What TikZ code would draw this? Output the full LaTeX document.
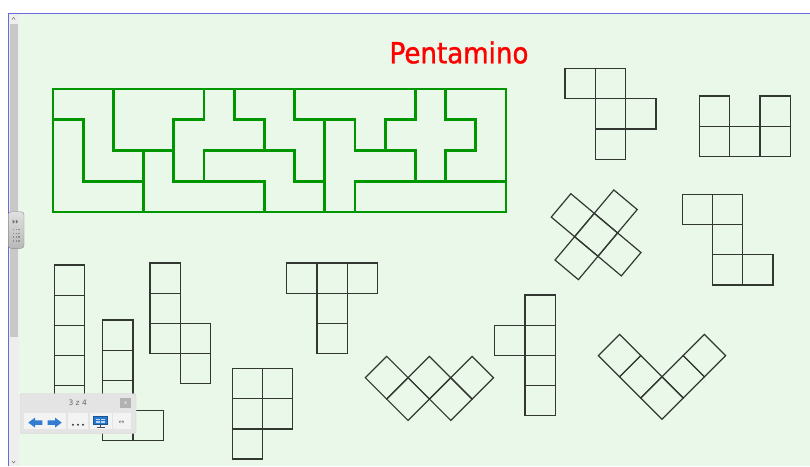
\documentclass[tikz,border=0pt]{standalone}
\usepackage{fontspec}
\newfontfamily\titlefont[FakeStretch=0.9,FakeBold=1.2]{DejaVu Sans}
\newfontfamily\uifont{DejaVu Sans}
\definecolor{bg}{RGB}{233,248,233}
\definecolor{gline}{RGB}{0,150,0}
\definecolor{pline}{RGB}{50,55,50}
\definecolor{bluebd}{RGB}{105,105,215}
\definecolor{track}{RGB}{238,238,238}
\definecolor{thumb}{RGB}{200,200,200}
\definecolor{tbg}{RGB}{228,228,228}
\definecolor{tbd}{RGB}{210,210,210}
\definecolor{btn}{RGB}{243,243,243}
\definecolor{arrowblue}{RGB}{50,125,210}
\definecolor{scr}{RGB}{40,120,205}
\tikzset{
  piece/.style={draw=pline, line width=1.2pt, line join=miter},
  greenline/.style={draw=gline, line width=2.7pt, line cap=rect, line join=miter},
}
\newcommand\cel[2]{\draw[piece] (#1,#2) rectangle ++(1,1);}
\newcommand\ccel[2]{\draw[piece] ({#1-0.5},{#2-0.5}) rectangle ++(1,1);}
\begin{document}
\begin{tikzpicture}[x=1pt,y=-1pt]
\useasboundingbox (0,0) rectangle (810,466);
\fill[white] (0,0) rectangle (810,466);
\fill[bg] (8.3,13.5) rectangle (810,466);

% scrollbar
\fill[track] (8.8,14) rectangle (18.5,466);
\fill[thumb] (9.5,24) rectangle (18.2,337);
\draw[black!55, line width=0.5pt] (12,19.5) -- (13.6,17.5) -- (15.2,19.5);
\draw[black!55, line width=0.5pt] (12,461) -- (13.6,463) -- (15.2,461);
\draw[bluebd, line width=0.9pt] (8.3,466) -- (8.3,13.5) -- (810,13.5);
% side tab
\shade[top color=black!12, bottom color=black!28, rounded corners=3pt]
  (8.3,211.7) rectangle (24,248.3);
\draw[black!45, rounded corners=3pt] (8.3,211.7) rectangle (24,248.3);
\fill[black!55] (12.7,219.7) -- (15,221.7) -- (12.7,223.7) -- cycle;
\fill[black!55] (15.9,219.7) -- (18.2,221.7) -- (15.9,223.7) -- cycle;
\foreach \yy in {229.5,233.3,237.1,240.9} {
  \foreach \xx in {13.5,16.3,19.1} {
    \fill[black!45] (\xx-0.7,\yy-0.7) rectangle (\xx+0.7,\yy+0.7);
  }
}

% title
\node[anchor=base, inner sep=0pt, text=red, font=\titlefont\fontsize{29}{29}\selectfont] (title) at (459,63.3) {Pentamino};

% green 15x4 rectangle
\begin{scope}[shift={(53,89)}, x=30.2pt, y=-30.75pt]
  \draw[greenline] (0,0) rectangle (15,4);
  \draw[greenline] (0,1) -- (1,1) -- (1,3) -- (3,3);
  \draw[greenline] (2,0) -- (2,2) -- (4,2);
  \draw[greenline] (3,2) -- (3,4);
  \draw[greenline] (5,0) -- (5,1) -- (4,1) -- (4,3) -- (7,3) -- (7,4);
  \draw[greenline] (5,3) -- (5,2) -- (8,2) -- (8,3) -- (9,3);
  \draw[greenline] (6,0) -- (6,1) -- (7,1) -- (7,2);
  \draw[greenline] (8,0) -- (8,1) -- (9,1) -- (9,4);
  \draw[greenline] (9,1) -- (10,1) -- (10,2) -- (12,2) -- (12,3);
  \draw[greenline] (11,2) -- (11,1) -- (12,1) -- (12,0);
  \draw[greenline] (15,3) -- (10,3) -- (10,4);
  \draw[greenline] (13,0) -- (13,1) -- (14,1) -- (14,2) -- (13,2) -- (13,3);
\end{scope}

% black pentominoes
\begin{scope}[shift={(565,68.3)}, x=30.3pt, y=-30.3pt]
  \cel{0}{0}\cel{1}{0}\cel{1}{1}\cel{2}{1}\cel{1}{2}
\end{scope}
\begin{scope}[shift={(699.5,96)}, x=30.2pt, y=-30.2pt]
  \cel{0}{0}\cel{2}{0}\cel{0}{1}\cel{1}{1}\cel{2}{1}
\end{scope}
\begin{scope}[shift={(596.1,234.8)}, rotate=-40, x=30.5pt, y=-30.5pt]
  \ccel{0}{0}\ccel{1}{0}\ccel{-1}{0}\ccel{0}{1}\ccel{0}{-1}
\end{scope}
\begin{scope}[shift={(682.3,194.3)}, x=30.2pt, y=-30.2pt]
  \cel{0}{0}\cel{1}{0}\cel{1}{1}\cel{1}{2}\cel{2}{2}
\end{scope}
\begin{scope}[shift={(54.3,265)}, x=30.1pt, y=-30.1pt]
  \cel{0}{0}\cel{0}{1}\cel{0}{2}\cel{0}{3}\cel{0}{4}
\end{scope}
\begin{scope}[shift={(102.7,320)}, x=30.2pt, y=-30.2pt]
  \cel{0}{0}\cel{0}{1}\cel{0}{2}\cel{0}{3}\cel{1}{3}
\end{scope}
\begin{scope}[shift={(150,263)}, x=30.2pt, y=-30.2pt]
  \cel{0}{0}\cel{0}{1}\cel{0}{2}\cel{1}{2}\cel{1}{3}
\end{scope}
\begin{scope}[shift={(286.7,263)}, x=30.2pt, y=-30.2pt]
  \cel{0}{0}\cel{1}{0}\cel{2}{0}\cel{1}{1}\cel{1}{2}
\end{scope}
\begin{scope}[shift={(232.3,368.7)}, x=30.1pt, y=-30.1pt]
  \cel{0}{0}\cel{1}{0}\cel{0}{1}\cel{1}{1}\cel{0}{2}
\end{scope}
\begin{scope}[shift={(386.7,377.7)}, rotate=-45, x=30.2pt, y=-30.2pt]
  \ccel{0}{0}\ccel{1}{0}\ccel{1}{-1}\ccel{2}{-1}\ccel{2}{-2}
\end{scope}
\begin{scope}[shift={(494.7,295)}, x=30.2pt, y=-30.2pt]
  \cel{1}{0}\cel{0}{1}\cel{1}{1}\cel{1}{2}\cel{1}{3}
\end{scope}
\begin{scope}[shift={(662,398)}, rotate=-45, x=30pt, y=-30pt]
  \ccel{0}{0}\ccel{-1}{0}\ccel{-2}{0}\ccel{0}{-1}\ccel{0}{-2}
\end{scope}

% toolbar
\draw[fill=tbg, draw=tbd, rounded corners=1.5pt] (20,393.5) rectangle (136,433.5);
\node[font=\uifont\fontsize{7.5}{7.5}\selectfont, text=black!60, inner sep=0pt] (tbtitle) at (77.7,402.6) {3 z 4};
\fill[black!30] (120,397.7) rectangle (131,408.3);
\node[font=\uifont\fontsize{5}{5}\selectfont, text=white, inner sep=0pt] (closex) at (125.5,403) {x};
\fill[btn] (24.3,413.3) rectangle (65.7,429);
\fill[btn] (68.3,413.3) rectangle (88.3,429);
\fill[btn] (90,413.3) rectangle (111.7,429);
\fill[btn] (113.3,413.3) rectangle (131,429);
\fill[arrowblue] (28.3,422.6) -- (35,417.6) -- (35,420.4) -- (42.3,420.4) -- (42.3,424.8) -- (35,424.8) -- (35,427.6) -- cycle;
\fill[arrowblue] (61.7,422.6) -- (55,417.6) -- (55,420.4) -- (47.7,420.4) -- (47.7,424.8) -- (55,424.8) -- (55,427.6) -- cycle;
\foreach \xx in {73,78,83} { \fill[black!75] (\xx,424.8) circle (1.1pt); }
\fill[scr!70!black] (93.3,416.3) rectangle (107.7,425.2);
\fill[scr] (94.1,417.1) rectangle (106.9,424.4);
\fill[white!70!scr] (96,418.6) rectangle (99.6,420.4);
\fill[white!70!scr] (101.2,418.6) rectangle (104.8,420.4);
\fill[white!70!scr] (96,421.4) rectangle (99.6,423.2);
\fill[white!70!scr] (101.2,421.4) rectangle (104.8,423.2);
\fill[black!70] (99.6,425.2) rectangle (101.4,427.2);
\fill[black!70] (96.5,427.2) rectangle (104.5,428.3);
\node[font=\uifont\fontsize{7}{7}\selectfont, text=black!55, inner sep=0pt] (resize) at (121.5,422.5) {↔};
\end{tikzpicture}
\end{document}
